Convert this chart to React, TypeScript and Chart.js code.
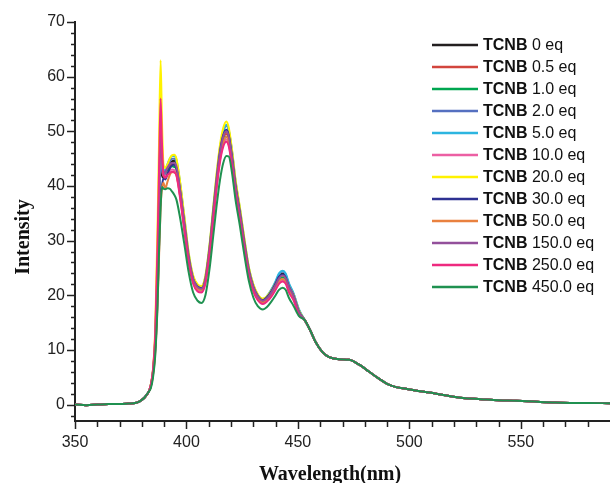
import React, { useEffect, useRef } from 'react';
import { Chart, registerables } from 'chart.js';

Chart.register(...registerables);

// ---- data ----
const baseWavelengths = [350, 355, 360, 365, 370, 374, 377, 379, 381, 383];
const baseIntensity = [0, -0.1, 0, 0.1, 0.1, 0.2, 0.3, 0.6, 1.2, 2.3];

const peakWavelengths = [
  384, 385, 386, 387, 387.7, 388.4, 389, 389.7, 390.5, 391.5, 392.5, 393.5, 394.5, 395.5, 397,
  399, 401, 403, 405, 406.7, 408.5, 410.5, 412, 413.5, 415, 416.5, 417.9, 419, 420.5, 422,
  424, 426, 428, 430, 432, 434.3, 436, 438, 440, 441.5, 443.2, 444.5, 446, 448, 450.5,
];

const tailWavelengths = [
  453, 455.5, 458, 461, 464, 468.5, 473, 477.5, 482, 486.5, 490, 494, 498.5, 504, 509, 516, 524,
  532, 540, 548, 556, 564, 572, 580, 590,
];
const tailIntensity = [
  15.5, 13.6, 11.4, 9.6, 8.7, 8.3, 8.2, 7.3, 6.0, 4.7, 3.8, 3.2, 2.9, 2.5, 2.2, 1.7, 1.2, 1.0, 0.8,
  0.7, 0.55, 0.4, 0.3, 0.3, 0.25,
];

const eq0 = [3.5, 6, 11, 22, 33, 44, 42, 41.5, 42, 43, 44, 44.5, 44.6, 44, 40, 33.5, 27, 23, 21.6, 21.3, 23, 29, 35, 41, 46, 49, 50, 49, 45, 40, 35, 29.5, 24.5, 21.5, 19.8, 19, 19.4, 20.5, 22, 23.3, 24, 23.4, 21.6, 20, 17];
const eq0_5 = [3.4, 6, 11, 23, 35, 46, 43, 41.8, 42, 43, 43.6, 44, 44, 43.4, 39.5, 33, 26.8, 22.8, 21.4, 21.1, 22.8, 28.6, 34.6, 40.6, 45.5, 48.6, 49.5, 48.5, 44.6, 39.6, 34.6, 29.2, 24.2, 21.3, 19.6, 18.8, 19.2, 20.3, 21.8, 23, 23.5, 23, 21.3, 19.8, 16.8];
const eq1 = [3.4, 6, 12, 25, 37, 48.4, 44, 42, 42, 42.8, 43.3, 43.6, 43.5, 43, 39.2, 32.8, 26.6, 22.6, 21.2, 21, 22.6, 28.4, 34.4, 40.3, 45.2, 48.2, 49, 48, 44.2, 39.3, 34.4, 29, 24, 21.1, 19.5, 18.7, 19.1, 20.2, 21.6, 22.8, 23.3, 22.8, 21.1, 19.6, 16.6];
const eq2 = [3.5, 6, 11, 22, 33, 45, 43, 42, 42.5, 43.5, 44.5, 45, 45, 44.4, 40.6, 34, 27.4, 23.3, 21.8, 21.5, 23.3, 29.4, 35.6, 41.6, 46.7, 49.8, 51, 50, 46, 40.8, 35.6, 30, 24.9, 21.8, 20, 19.2, 19.7, 20.9, 22.4, 23.8, 24.4, 23.8, 22, 20.3, 17.3];
const eq5 = [3.6, 6.2, 11.5, 23, 35, 47, 44, 42.6, 43, 44, 45, 45.5, 45.5, 44.8, 41, 34.4, 27.6, 23.4, 21.9, 21.6, 23.4, 29.6, 35.8, 41.8, 46.9, 50, 51.2, 50.2, 46.2, 41, 35.8, 30.1, 25, 21.9, 20.1, 19.3, 19.8, 21, 22.6, 24, 24.5, 24, 22.2, 20.4, 17.4];
const eq10 = [3.6, 6.3, 12.5, 27, 40, 52, 46, 42, 41.8, 42.4, 42.8, 43, 42.9, 42.3, 38.6, 32.4, 26.2, 22.3, 20.9, 20.7, 22.4, 28.2, 34, 39.8, 44.7, 47.6, 48.5, 47.6, 43.8, 39, 34, 28.7, 23.8, 20.9, 19.3, 18.5, 18.9, 19.9, 21.3, 22.4, 22.8, 22.4, 20.8, 19.4, 16.5];
const eq20 = [3.7, 6.5, 14, 32, 48, 63, 52, 44, 43.3, 44, 45, 45.6, 45.7, 45, 41.2, 34.6, 27.8, 23.6, 22, 21.7, 23.6, 29.8, 36, 42.2, 47.4, 50.6, 51.8, 50.6, 46.4, 41.2, 36, 30.3, 25.1, 22, 20.2, 19.4, 19.8, 20.8, 22.2, 23.2, 23.6, 23.2, 21.6, 20.1, 17.2];
const eq30 = [3.3, 5.6, 10, 19, 29, 38, 40, 41.4, 41.2, 42.2, 43.2, 43.8, 43.9, 43.3, 39.6, 33.4, 27, 23, 21.6, 21.3, 23, 29, 35.1, 41.2, 46.3, 49.3, 50.3, 49.3, 45.3, 40.3, 35.2, 29.6, 24.6, 21.6, 19.9, 19.1, 19.6, 20.7, 22.2, 23.4, 23.8, 23.3, 21.6, 20, 17];
const eq50 = [3.2, 5.4, 9.5, 18, 27, 36, 39.5, 40.6, 39.5, 40.8, 42, 42.5, 42.5, 42, 38.6, 32.6, 26.4, 22.6, 21.2, 21, 22.6, 28.4, 34.3, 40.2, 45, 48, 49, 48, 44.2, 39.3, 34.3, 28.9, 24, 21.1, 19.5, 18.7, 19.2, 20.3, 21.7, 22.7, 23, 22.6, 21, 19.6, 16.7];
const eq150 = [3.5, 6.1, 12, 25, 38, 50, 45, 42.5, 42.6, 43.4, 44, 44.2, 44.2, 43.6, 39.8, 33.4, 27, 23, 21.5, 21.2, 23, 29, 35, 41, 46, 49, 50, 49, 45, 40, 35, 29.5, 24.5, 21.5, 19.8, 19, 19.4, 20.4, 21.9, 23.1, 23.6, 23.1, 21.5, 19.9, 16.9];
const eq250 = [3.6, 6.4, 13, 29, 43, 56, 48, 42, 41.5, 42, 42.4, 42.6, 42.5, 41.9, 38.2, 32, 26, 22.1, 20.7, 20.5, 22.2, 28, 33.7, 39.5, 44.3, 47.2, 48.1, 47.2, 43.4, 38.6, 33.7, 28.4, 23.6, 20.7, 19.1, 18.4, 18.8, 19.7, 21, 22.1, 22.5, 22.1, 20.5, 19.1, 16.3];
const eq450 = [3, 5, 9, 18, 28, 36, 39.8, 39.5, 39.4, 39.6, 39.5, 39, 38.4, 37.5, 34.5, 29.5, 24.2, 20.5, 19, 18.6, 20, 25.3, 30.8, 36.3, 41, 44.2, 45.5, 45.4, 42.2, 37.5, 32.6, 27.3, 22.6, 19.6, 18, 17.4, 17.8, 18.8, 20, 21, 21.4, 21, 19.5, 18.1, 16.2];

const seriesPeaks = [eq0, eq0_5, eq1, eq2, eq5, eq10, eq20, eq30, eq50, eq150, eq250, eq450];
const seriesLabels = ['0', '0.5', '1.0', '2.0', '5.0', '10.0', '20.0', '30.0', '50.0', '150.0', '250.0', '450.0'];
const seriesColors = [
  '#231f20', '#d2453d', '#00a650', '#5570c0', '#2cb5e0', '#ec5fa3',
  '#fff200', '#2e3192', '#e9813f', '#93509b', '#ee2a7f', '#1f9150',
];

const xLabelValues = [350, 400, 450, 500, 550];
const yLabelValues = [0, 10, 20, 30, 40, 50, 60, 70];
const xTickValues = [350, 360, 370, 380, 390, 400, 410, 420, 430, 440, 450, 460, 470, 480, 490, 500, 510, 520, 530, 540, 550, 560, 570, 580];
const yTickValues = [-2, 0, 2, 4, 6, 8, 10, 12, 14, 16, 18, 20, 22, 24, 26, 28, 30, 32, 34, 36, 38, 40, 42, 44, 46, 48, 50, 52, 54, 56, 58, 60, 62, 64, 66, 68, 70];

const allWavelengths = [...baseWavelengths, ...peakWavelengths, ...tailWavelengths];

const overlayPlugin = {
  id: 'overlay',
  afterDraw(chart: any) {
    const ctx = chart.ctx;
    const xs = chart.scales.x;
    const ys = chart.scales.y;
    const area = chart.chartArea;
    ctx.save();
    // tick marks
    ctx.strokeStyle = '#222';
    ctx.lineWidth = 1.5;
    ctx.beginPath();
    xTickValues.forEach((v) => {
      const px = Math.round(xs.getPixelForValue(v)) + 0.5;
      const len = v % 50 === 0 ? 8 : 6;
      ctx.moveTo(px, area.bottom);
      ctx.lineTo(px, area.bottom + len);
    });
    yTickValues.forEach((v) => {
      const py = Math.round(ys.getPixelForValue(v)) + 0.5;
      const len = v % 10 === 0 ? 8 : 4;
      ctx.moveTo(area.left - len, py);
      ctx.lineTo(area.left, py);
    });
    ctx.stroke();

    // legend
    const lx0 = 432, lx1 = 478, tx = 483, ly0 = 45, step = 22;
    chart.data.datasets.forEach((ds: any, i: number) => {
      const y = ly0 + i * step;
      ctx.strokeStyle = ds.borderColor;
      ctx.lineWidth = 2.5;
      ctx.beginPath();
      ctx.moveTo(lx0, y);
      ctx.lineTo(lx1, y);
      ctx.stroke();
      ctx.fillStyle = '#111';
      ctx.textBaseline = 'middle';
      ctx.textAlign = 'left';
      ctx.font = 'bold 16px "Liberation Sans", Arial, sans-serif';
      ctx.fillText('TCNB', tx, y + 1);
      const w = ctx.measureText('TCNB').width;
      ctx.font = '16px "Liberation Sans", Arial, sans-serif';
      ctx.fillText(' ' + seriesLabels[i] + ' eq', tx + w, y + 1);
    });

    // axis titles
    ctx.fillStyle = '#111';
    ctx.font = 'bold 20px "Liberation Serif", "Times New Roman", serif';
    ctx.textAlign = 'center';
    ctx.textBaseline = 'alphabetic';
    ctx.fillText('Wavelength(nm)', 330, 480);
    ctx.save();
    ctx.translate(29, 237);
    ctx.rotate(-Math.PI / 2);
    ctx.fillText('Intensity', 0, 0);
    ctx.restore();
    ctx.restore();
  },
};

export default function App() {
  const ref = useRef<HTMLCanvasElement | null>(null);
  useEffect(() => {
    if (!ref.current) return;
    const datasets = seriesPeaks.map((peak, i) => {
      const vals = [...baseIntensity, ...peak, ...tailIntensity];
      return {
        label: 'TCNB ' + seriesLabels[i] + ' eq',
        data: allWavelengths.map((w, k) => ({ x: w, y: vals[k] })),
        borderColor: seriesColors[i],
        backgroundColor: seriesColors[i],
        borderWidth: 2,
        pointRadius: 0,
        cubicInterpolationMode: 'monotone' as const,
        order: -i,
        fill: false,
      };
    });
    const chart = new Chart(ref.current, {
      type: 'line',
      data: { datasets },
      options: {
        animation: false,
        responsive: false,
        layout: { padding: { top: 22, right: 0, left: 0, bottom: 0 } },
        plugins: { legend: { display: false }, tooltip: { enabled: false } },
        scales: {
          x: {
            type: 'linear',
            min: 350,
            max: 590,
            afterBuildTicks: (s: any) => { s.ticks = xLabelValues.map((v) => ({ value: v })); },
            afterFit: (s: any) => { s.height = 62; s.paddingLeft = 0; s.paddingRight = 0; },
            grid: { display: false, drawTicks: false },
            border: { display: true, color: '#222', width: 2 },
            ticks: {
              autoSkip: false,
              padding: 12,
              color: '#222',
              font: { family: '"Liberation Sans", Arial, sans-serif', size: 16 },
              maxRotation: 0,
            },
          },
          y: {
            type: 'linear',
            min: -3,
            max: 70,
            afterBuildTicks: (s: any) => { s.ticks = yLabelValues.map((v) => ({ value: v })); },
            afterFit: (s: any) => { s.width = 75; s.paddingTop = 0; s.paddingBottom = 0; },
            grid: { display: false, drawTicks: false },
            border: { display: true, color: '#222', width: 2 },
            ticks: {
              autoSkip: false,
              padding: 10,
              color: '#222',
              font: { family: '"Liberation Sans", Arial, sans-serif', size: 16 },
            },
          },
        },
      },
      plugins: [overlayPlugin],
    });
    return () => chart.destroy();
  }, []);
  return (
    <div style={{ position: 'fixed', left: 0, top: 0, width: 610, height: 483, background: '#fff' }}>
      <canvas ref={ref} width={610} height={483} />
    </div>
  );
}
